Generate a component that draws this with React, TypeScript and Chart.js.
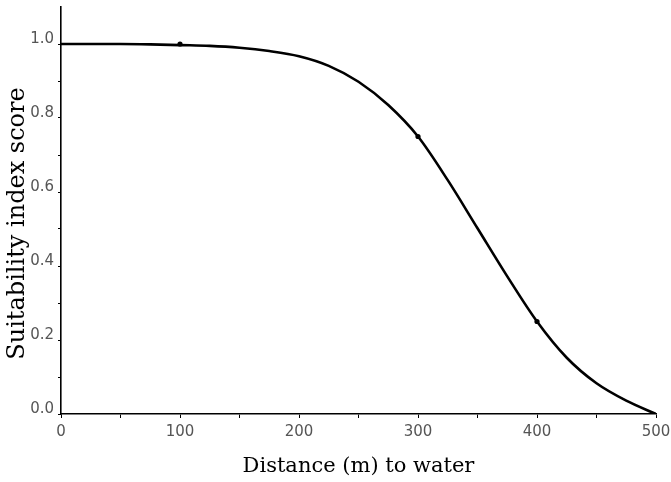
import React, { useEffect, useRef } from "react";
import { Chart, registerables } from "chart.js";

Chart.register(...registerables);

const curveDistances = [0, 25, 50, 75, 100, 125, 150, 175, 200, 225, 250, 275, 300, 325, 350, 375, 400, 425, 450, 475, 500];
const curveScores = [1.0, 1.0, 1.0, 0.999, 0.997, 0.995, 0.99, 0.981, 0.967, 0.941, 0.898, 0.835, 0.75, 0.632, 0.502, 0.372, 0.25, 0.152, 0.083, 0.036, 0.0];

// Observed points
const obsDistances = [100, 300, 400];
const obsScores = [1.0, 0.75, 0.25];

// Axis labels / ticks
const xTitle = "Distance (m) to water";
const yTitle = "Suitability index score";
const xLabelEvery = 100;
const yLabelEvery = 0.2;

const titlePlugin = {
  id: "customTitles",
  afterDraw(chart: any) {
    const ctx = chart.ctx;
    const area = chart.chartArea;
    ctx.save();
    ctx.fillStyle = "#000";
    ctx.textAlign = "center";
    ctx.textBaseline = "alphabetic";
    ctx.font = "21px 'DejaVu Serif'";
    ctx.fillText(xTitle, (area.left + area.right) / 2, 472);
    ctx.translate(24, 223.5);
    ctx.rotate(-Math.PI / 2);
    ctx.font = "24px 'DejaVu Serif'";
    ctx.fillText(yTitle, 0, 0);
    ctx.restore();
  },
};

export default function App() {
  const ref = useRef<HTMLCanvasElement | null>(null);

  useEffect(() => {
    if (!ref.current) return;
    const curve = curveDistances.map((x, i) => ({ x, y: curveScores[i] }));
    const obs = obsDistances.map((x, i) => ({ x, y: obsScores[i] }));
    const tickFont = { family: "'DejaVu Sans'", size: 15 };
    const chart = new Chart(ref.current, {
      type: "scatter",
      data: {
        datasets: [
          {
            data: curve,
            showLine: true,
            borderColor: "#000",
            borderWidth: 2.6,
            pointRadius: 0,
            cubicInterpolationMode: "monotone",
            fill: false,
          },
          {
            data: obs,
            showLine: false,
            pointRadius: 2.6,
            pointBackgroundColor: "#000",
            pointBorderColor: "#000",
            pointBorderWidth: 0,
          },
        ],
      },
      options: {
        animation: false,
        responsive: false,
        events: [],
        layout: { padding: { left: 0, right: 15, top: 7, bottom: 0 } },
        plugins: { legend: { display: false }, tooltip: { enabled: false } },
        scales: {
          x: {
            type: "linear",
            min: 0,
            max: 500,
            border: { display: true, color: "#000", width: 1.6 },
            grid: { display: true, drawOnChartArea: false, drawTicks: true, tickLength: 4, color: "#000", lineWidth: 1 },
            ticks: {
              stepSize: 50,
              autoSkip: false,
              maxRotation: 0,
              padding: 5,
              color: "#555",
              font: tickFont,
              callback: (v: any) => (Math.abs(v % xLabelEvery) < 1e-6 ? String(v) : ""),
            },
            afterFit: (s: any) => {
              s.height = 68;
              s.paddingLeft = 0;
              s.paddingRight = 0;
            },
          },
          y: {
            type: "linear",
            min: 0,
            max: 1.1,
            border: { display: true, color: "#000", width: 1.6 },
            grid: { display: true, drawOnChartArea: false, drawTicks: true, tickLength: 3, color: "#000", lineWidth: 1 },
            afterBuildTicks: (s: any) => {
              s.ticks = s.ticks.filter((t: any) => t.value <= 1.0001);
            },
            ticks: {
              stepSize: 0.1,
              autoSkip: false,
              padding: 4,
              color: "#555",
              font: { family: "'DejaVu Sans'", size: 15, lineHeight: "10px" },
              callback: (v: any) => {
                const r = v / yLabelEvery;
                return Math.abs(r - Math.round(r)) < 1e-6 ? [Number(v).toFixed(1), ""] : "";
              },
            },
            afterFit: (s: any) => {
              s.width = 61;
              s.paddingTop = 0;
              s.paddingBottom = 0;
            },
          },
        },
      } as any,
      plugins: [titlePlugin],
    });
    return () => chart.destroy();
  }, []);

  return (
    <div style={{ position: "fixed", left: 0, top: 0, width: 671, height: 482, background: "#fff" }}>
      <canvas ref={ref} width={671} height={482} />
    </div>
  );
}
